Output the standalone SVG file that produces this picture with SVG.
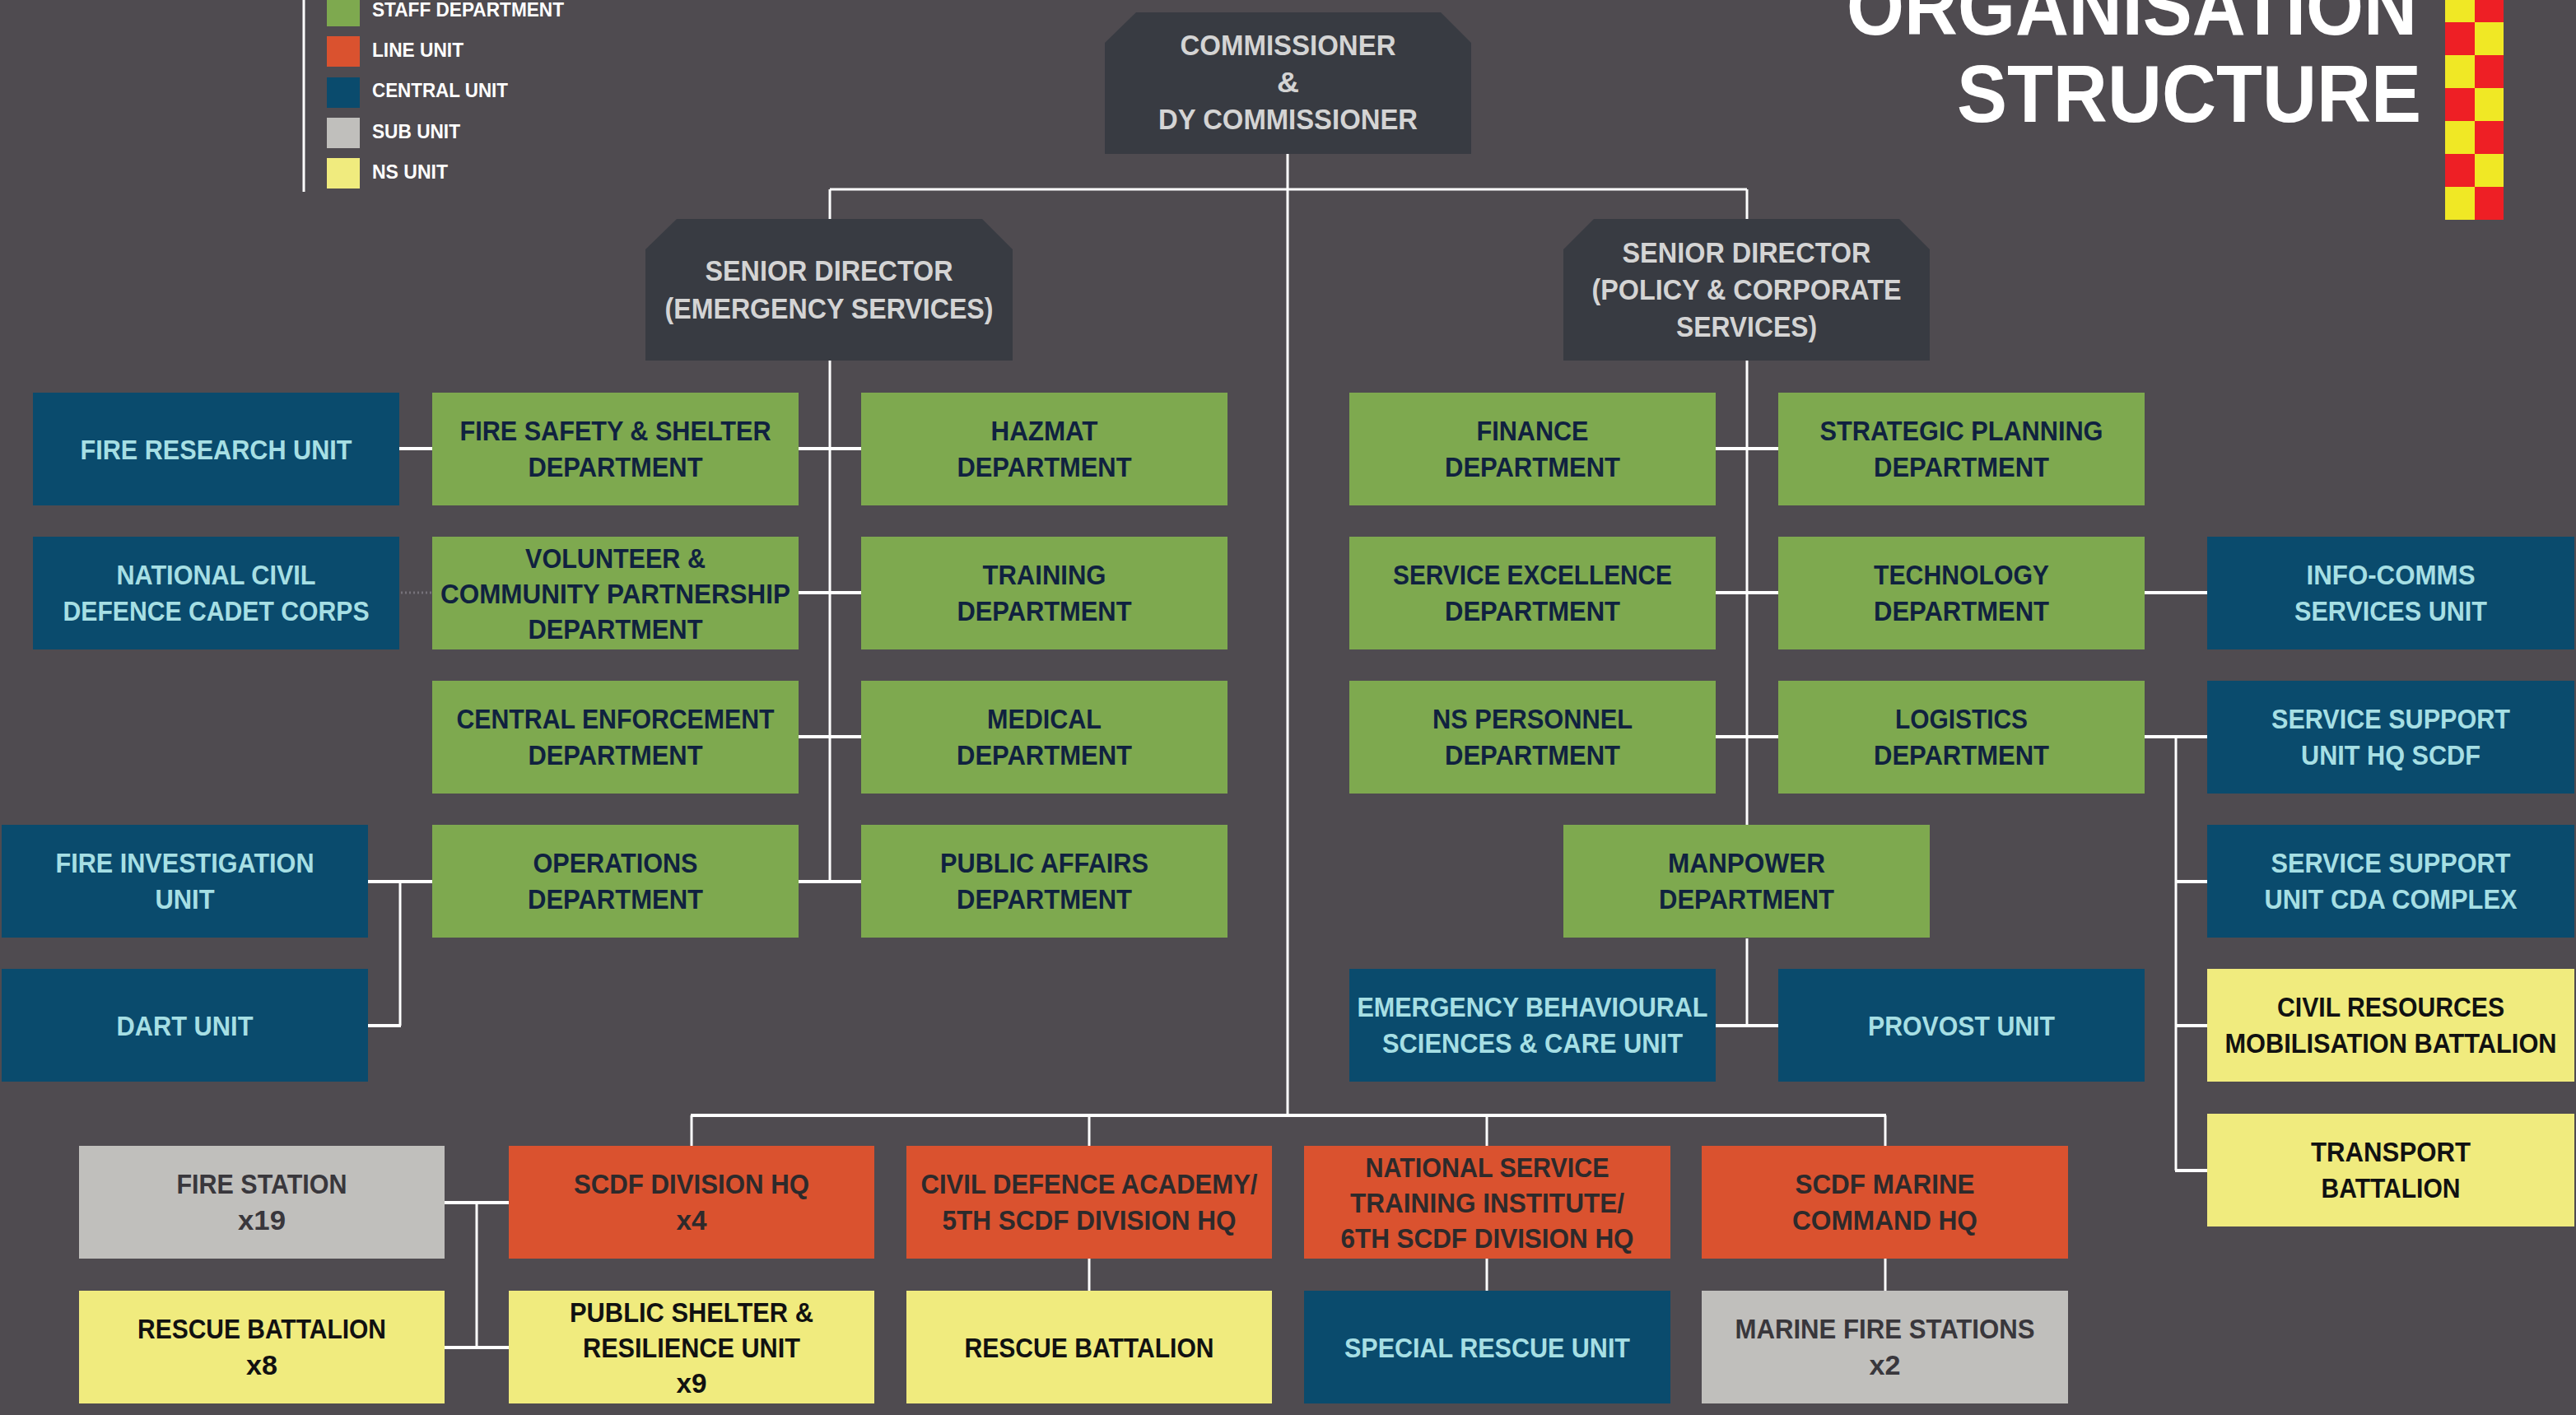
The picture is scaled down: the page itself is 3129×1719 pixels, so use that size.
<svg xmlns="http://www.w3.org/2000/svg" width="3129" height="1719" viewBox="0 0 3129 1719">
<style>
.t{font-family:"Liberation Sans",Arial,sans-serif;font-weight:bold;font-size:33px}
.g{fill:#7ea94f}.b{fill:#0a4b6d}.o{fill:#da522f}.s{fill:#c0bfbc}.y{fill:#f0eb7e}.d{fill:#383b42}
.tg{fill:#10223f}.tb{fill:#a6dfe4}.to{fill:#2d2a2b}.ts{fill:#39373c}.ty{fill:#111111}.td{fill:#d4d4d4;font-size:35px}
.lg{fill:#ffffff;font-size:24px}
.c{stroke:#ffffff;stroke-width:3;fill:none}
.h{stroke:#ffffff;stroke-width:4;fill:none}
.dot{stroke:#77737a;stroke-width:3;stroke-dasharray:2 3;fill:none}
</style>
<rect x="0" y="0" width="3129" height="1719" fill="#4f4b50"/>

<g id="legend">
<line x1="369" y1="0" x2="369" y2="233" class="c"/>
<rect x="397" y="-5" width="40" height="37" class="g"/>
<rect x="397" y="44" width="40" height="37" class="o"/>
<rect x="397" y="94" width="40" height="37" class="b"/>
<rect x="397" y="143" width="40" height="37" class="s"/>
<rect x="397" y="192" width="40" height="37" class="y"/>
<text class="t lg" x="452" y="20" textLength="233" lengthAdjust="spacingAndGlyphs">STAFF DEPARTMENT</text>
<text class="t lg" x="452" y="69" textLength="111" lengthAdjust="spacingAndGlyphs">LINE UNIT</text>
<text class="t lg" x="452" y="118" textLength="165" lengthAdjust="spacingAndGlyphs">CENTRAL UNIT</text>
<text class="t lg" x="452" y="168" textLength="107" lengthAdjust="spacingAndGlyphs">SUB UNIT</text>
<text class="t lg" x="452" y="217" textLength="92" lengthAdjust="spacingAndGlyphs">NS UNIT</text>
</g>

<g id="title">
<text class="t" style="font-size:99px" fill="#ffffff" x="2243" y="42" textLength="693" lengthAdjust="spacingAndGlyphs">ORGANISATION</text>
<text class="t" style="font-size:99px" fill="#ffffff" x="2377" y="148" textLength="564" lengthAdjust="spacingAndGlyphs">STRUCTURE</text>
<g id="flag">
<rect x="2970" y="-13" width="36" height="40" fill="#f0e825"/><rect x="3006" y="-13" width="35" height="40" fill="#ee1f25"/>
<rect x="2970" y="27" width="36" height="40" fill="#ee1f25"/><rect x="3006" y="27" width="35" height="40" fill="#f0e825"/>
<rect x="2970" y="67" width="36" height="40" fill="#f0e825"/><rect x="3006" y="67" width="35" height="40" fill="#ee1f25"/>
<rect x="2970" y="107" width="36" height="40" fill="#ee1f25"/><rect x="3006" y="107" width="35" height="40" fill="#f0e825"/>
<rect x="2970" y="147" width="36" height="40" fill="#f0e825"/><rect x="3006" y="147" width="35" height="40" fill="#ee1f25"/>
<rect x="2970" y="187" width="36" height="40" fill="#ee1f25"/><rect x="3006" y="187" width="35" height="40" fill="#f0e825"/>
<rect x="2970" y="227" width="36" height="40" fill="#f0e825"/><rect x="3006" y="227" width="35" height="40" fill="#ee1f25"/>
</g>
</g>

<g id="connectors">
<line x1="1564" y1="187" x2="1564" y2="1356" class="c"/>
<line x1="1008" y1="230" x2="2122" y2="230" class="c"/>
<line x1="1008" y1="230" x2="1008" y2="266" class="c"/>
<line x1="1008" y1="438" x2="1008" y2="1071" class="c"/>
<line x1="2122" y1="230" x2="2122" y2="266" class="c"/>
<line x1="2122" y1="438" x2="2122" y2="1002" class="c"/>
<line x1="2122" y1="1140" x2="2122" y2="1246" class="c"/>
<line x1="970" y1="545" x2="1046" y2="545" class="h"/>
<line x1="970" y1="720" x2="1046" y2="720" class="h"/>
<line x1="970" y1="895" x2="1046" y2="895" class="h"/>
<line x1="970" y1="1071" x2="1046" y2="1071" class="h"/>
<line x1="2084" y1="545" x2="2160" y2="545" class="h"/>
<line x1="2084" y1="720" x2="2160" y2="720" class="h"/>
<line x1="2084" y1="895" x2="2160" y2="895" class="h"/>
<line x1="2084" y1="1246" x2="2160" y2="1246" class="h"/>
<line x1="485" y1="545" x2="525" y2="545" class="h"/>
<line x1="487" y1="720" x2="524" y2="720" class="dot"/>
<line x1="447" y1="1071" x2="525" y2="1071" class="h"/>
<line x1="486" y1="1071" x2="486" y2="1246" class="c"/>
<line x1="447" y1="1246" x2="487" y2="1246" class="h"/>
<line x1="2605" y1="720" x2="2681" y2="720" class="h"/>
<line x1="2605" y1="895" x2="2681" y2="895" class="h"/>
<line x1="2643" y1="895" x2="2643" y2="1422" class="c"/>
<line x1="2642" y1="1071" x2="2681" y2="1071" class="h"/>
<line x1="2642" y1="1246" x2="2681" y2="1246" class="h"/>
<line x1="2642" y1="1422" x2="2681" y2="1422" class="h"/>
<line x1="839" y1="1355" x2="2291" y2="1355" class="h"/>
<line x1="840" y1="1355" x2="840" y2="1392" class="c"/>
<line x1="1323" y1="1355" x2="1323" y2="1392" class="c"/>
<line x1="1806" y1="1355" x2="1806" y2="1392" class="c"/>
<line x1="2290" y1="1355" x2="2290" y2="1392" class="c"/>
<line x1="1323" y1="1529" x2="1323" y2="1568" class="c"/>
<line x1="1806" y1="1529" x2="1806" y2="1568" class="c"/>
<line x1="2290" y1="1529" x2="2290" y2="1568" class="c"/>
<line x1="540" y1="1461" x2="618" y2="1461" class="h"/>
<line x1="579" y1="1461" x2="579" y2="1637" class="c"/>
<line x1="540" y1="1637" x2="618" y2="1637" class="h"/>
</g>

<g id="commissioner">
<path d="M1342,52 L1380,15 L1750,15 L1787,52 L1787,187 L1342,187 Z" class="d"/>
<text class="t td" x="1433.5" y="67" textLength="262" lengthAdjust="spacingAndGlyphs">COMMISSIONER</text>
<text class="t td" x="1551" y="112" textLength="27" lengthAdjust="spacingAndGlyphs">&amp;</text>
<text class="t td" x="1407" y="157" textLength="315" lengthAdjust="spacingAndGlyphs">DY COMMISSIONER</text>
</g>
<g id="sd-emergency">
<path d="M784,303 L822,266 L1193,266 L1230,303 L1230,438 L784,438 Z" class="d"/>
<text class="t td" x="856.5" y="341" textLength="301" lengthAdjust="spacingAndGlyphs">SENIOR DIRECTOR</text>
<text class="t td" x="807.5" y="387" textLength="399" lengthAdjust="spacingAndGlyphs">(EMERGENCY SERVICES)</text>
</g>
<g id="sd-policy">
<path d="M1899,303 L1936,266 L2307,266 L2344,303 L2344,438 L1899,438 Z" class="d"/>
<text class="t td" x="1970.5" y="319" textLength="302" lengthAdjust="spacingAndGlyphs">SENIOR DIRECTOR</text>
<text class="t td" x="1933.5" y="364" textLength="376" lengthAdjust="spacingAndGlyphs">(POLICY &amp; CORPORATE</text>
<text class="t td" x="2036" y="409" textLength="171" lengthAdjust="spacingAndGlyphs">SERVICES)</text>
</g>

<g id="fire-research-unit"><rect x="40" y="477" width="445" height="137" class="b"/>
<text class="t tb" x="97.5" y="557.5" textLength="330" lengthAdjust="spacingAndGlyphs">FIRE RESEARCH UNIT</text></g>
<g id="fire-safety"><rect x="525" y="477" width="445" height="137" class="g"/>
<text class="t tg" x="558.5" y="534.5" textLength="378" lengthAdjust="spacingAndGlyphs">FIRE SAFETY &amp; SHELTER</text>
<text class="t tg" x="641.5" y="578.5" textLength="212" lengthAdjust="spacingAndGlyphs">DEPARTMENT</text></g>
<g id="hazmat"><rect x="1046" y="477" width="445" height="137" class="g"/>
<text class="t tg" x="1203.5" y="534.5" textLength="130" lengthAdjust="spacingAndGlyphs">HAZMAT</text>
<text class="t tg" x="1162.5" y="578.5" textLength="212" lengthAdjust="spacingAndGlyphs">DEPARTMENT</text></g>

<g id="ncdcc"><rect x="40" y="652" width="445" height="137" class="b"/>
<text class="t tb" x="141.5" y="709.5" textLength="242" lengthAdjust="spacingAndGlyphs">NATIONAL CIVIL</text>
<text class="t tb" x="76.5" y="753.5" textLength="372" lengthAdjust="spacingAndGlyphs">DEFENCE CADET CORPS</text></g>
<g id="volunteer"><rect x="525" y="652" width="445" height="137" class="g"/>
<text class="t tg" x="638" y="689.5" textLength="219" lengthAdjust="spacingAndGlyphs">VOLUNTEER &amp;</text>
<text class="t tg" x="535" y="732.5" textLength="425" lengthAdjust="spacingAndGlyphs">COMMUNITY PARTNERSHIP</text>
<text class="t tg" x="641.5" y="775.5" textLength="212" lengthAdjust="spacingAndGlyphs">DEPARTMENT</text></g>
<g id="training"><rect x="1046" y="652" width="445" height="137" class="g"/>
<text class="t tg" x="1193.5" y="709.5" textLength="150" lengthAdjust="spacingAndGlyphs">TRAINING</text>
<text class="t tg" x="1162.5" y="753.5" textLength="212" lengthAdjust="spacingAndGlyphs">DEPARTMENT</text></g>

<g id="central-enforcement"><rect x="525" y="827" width="445" height="137" class="g"/>
<text class="t tg" x="554.5" y="884.5" textLength="386" lengthAdjust="spacingAndGlyphs">CENTRAL ENFORCEMENT</text>
<text class="t tg" x="641.5" y="928.5" textLength="212" lengthAdjust="spacingAndGlyphs">DEPARTMENT</text></g>
<g id="medical"><rect x="1046" y="827" width="445" height="137" class="g"/>
<text class="t tg" x="1199" y="884.5" textLength="139" lengthAdjust="spacingAndGlyphs">MEDICAL</text>
<text class="t tg" x="1162" y="928.5" textLength="213" lengthAdjust="spacingAndGlyphs">DEPARTMENT</text></g>

<g id="fire-investigation"><rect x="2" y="1002" width="445" height="137" class="b"/>
<text class="t tb" x="67.5" y="1059.5" textLength="314" lengthAdjust="spacingAndGlyphs">FIRE INVESTIGATION</text>
<text class="t tb" x="188.5" y="1103.5" textLength="72" lengthAdjust="spacingAndGlyphs">UNIT</text></g>
<g id="operations"><rect x="525" y="1002" width="445" height="137" class="g"/>
<text class="t tg" x="647.5" y="1059.5" textLength="200" lengthAdjust="spacingAndGlyphs">OPERATIONS</text>
<text class="t tg" x="641" y="1103.5" textLength="213" lengthAdjust="spacingAndGlyphs">DEPARTMENT</text></g>
<g id="public-affairs"><rect x="1046" y="1002" width="445" height="137" class="g"/>
<text class="t tg" x="1142" y="1059.5" textLength="253" lengthAdjust="spacingAndGlyphs">PUBLIC AFFAIRS</text>
<text class="t tg" x="1162" y="1103.5" textLength="213" lengthAdjust="spacingAndGlyphs">DEPARTMENT</text></g>
<g id="dart"><rect x="2" y="1177" width="445" height="137" class="b"/>
<text class="t tb" x="141.5" y="1257.5" textLength="166" lengthAdjust="spacingAndGlyphs">DART UNIT</text></g>

<g id="finance"><rect x="1639" y="477" width="445" height="137" class="g"/>
<text class="t tg" x="1793.5" y="534.5" textLength="136" lengthAdjust="spacingAndGlyphs">FINANCE</text>
<text class="t tg" x="1755" y="578.5" textLength="213" lengthAdjust="spacingAndGlyphs">DEPARTMENT</text></g>
<g id="strategic-planning"><rect x="2160" y="477" width="445" height="137" class="g"/>
<text class="t tg" x="2210.5" y="534.5" textLength="344" lengthAdjust="spacingAndGlyphs">STRATEGIC PLANNING</text>
<text class="t tg" x="2276" y="578.5" textLength="213" lengthAdjust="spacingAndGlyphs">DEPARTMENT</text></g>
<g id="service-excellence"><rect x="1639" y="652" width="445" height="137" class="g"/>
<text class="t tg" x="1692" y="709.5" textLength="339" lengthAdjust="spacingAndGlyphs">SERVICE EXCELLENCE</text>
<text class="t tg" x="1755" y="753.5" textLength="213" lengthAdjust="spacingAndGlyphs">DEPARTMENT</text></g>
<g id="technology"><rect x="2160" y="652" width="445" height="137" class="g"/>
<text class="t tg" x="2276" y="709.5" textLength="213" lengthAdjust="spacingAndGlyphs">TECHNOLOGY</text>
<text class="t tg" x="2276" y="753.5" textLength="213" lengthAdjust="spacingAndGlyphs">DEPARTMENT</text></g>
<g id="info-comms"><rect x="2681" y="652" width="446" height="137" class="b"/>
<text class="t tb" x="2801.5" y="709.5" textLength="205" lengthAdjust="spacingAndGlyphs">INFO-COMMS</text>
<text class="t tb" x="2787" y="753.5" textLength="234" lengthAdjust="spacingAndGlyphs">SERVICES UNIT</text></g>
<g id="ns-personnel"><rect x="1639" y="827" width="445" height="137" class="g"/>
<text class="t tg" x="1740" y="884.5" textLength="243" lengthAdjust="spacingAndGlyphs">NS PERSONNEL</text>
<text class="t tg" x="1755" y="928.5" textLength="213" lengthAdjust="spacingAndGlyphs">DEPARTMENT</text></g>
<g id="logistics"><rect x="2160" y="827" width="445" height="137" class="g"/>
<text class="t tg" x="2302" y="884.5" textLength="161" lengthAdjust="spacingAndGlyphs">LOGISTICS</text>
<text class="t tg" x="2276" y="928.5" textLength="213" lengthAdjust="spacingAndGlyphs">DEPARTMENT</text></g>
<g id="ssu-hq"><rect x="2681" y="827" width="446" height="137" class="b"/>
<text class="t tb" x="2759" y="884.5" textLength="290" lengthAdjust="spacingAndGlyphs">SERVICE SUPPORT</text>
<text class="t tb" x="2795" y="928.5" textLength="218" lengthAdjust="spacingAndGlyphs">UNIT HQ SCDF</text></g>
<g id="manpower"><rect x="1899" y="1002" width="445" height="137" class="g"/>
<text class="t tg" x="2026" y="1059.5" textLength="191" lengthAdjust="spacingAndGlyphs">MANPOWER</text>
<text class="t tg" x="2015" y="1103.5" textLength="213" lengthAdjust="spacingAndGlyphs">DEPARTMENT</text></g>
<g id="ssu-cda"><rect x="2681" y="1002" width="446" height="137" class="b"/>
<text class="t tb" x="2758.5" y="1059.5" textLength="291" lengthAdjust="spacingAndGlyphs">SERVICE SUPPORT</text>
<text class="t tb" x="2750.5" y="1103.5" textLength="307" lengthAdjust="spacingAndGlyphs">UNIT CDA COMPLEX</text></g>
<g id="ebsc"><rect x="1639" y="1177" width="445" height="137" class="b"/>
<text class="t tb" x="1648.5" y="1234.5" textLength="426" lengthAdjust="spacingAndGlyphs">EMERGENCY BEHAVIOURAL</text>
<text class="t tb" x="1679" y="1278.5" textLength="365" lengthAdjust="spacingAndGlyphs">SCIENCES &amp; CARE UNIT</text></g>
<g id="provost"><rect x="2160" y="1177" width="445" height="137" class="b"/>
<text class="t tb" x="2269" y="1257.5" textLength="227" lengthAdjust="spacingAndGlyphs">PROVOST UNIT</text></g>
<g id="civil-resources"><rect x="2681" y="1177" width="446" height="137" class="y"/>
<text class="t ty" x="2766" y="1234.5" textLength="276" lengthAdjust="spacingAndGlyphs">CIVIL RESOURCES</text>
<text class="t ty" x="2702.5" y="1278.5" textLength="403" lengthAdjust="spacingAndGlyphs">MOBILISATION BATTALION</text></g>
<g id="transport"><rect x="2681" y="1353" width="446" height="137" class="y"/>
<text class="t ty" x="2807" y="1410.5" textLength="194" lengthAdjust="spacingAndGlyphs">TRANSPORT</text>
<text class="t ty" x="2819.5" y="1454.5" textLength="169" lengthAdjust="spacingAndGlyphs">BATTALION</text></g>

<g id="fire-station"><rect x="96" y="1392" width="444" height="137" class="s"/>
<text class="t ts" x="214.5" y="1449.5" textLength="207" lengthAdjust="spacingAndGlyphs">FIRE STATION</text>
<text class="t ts" x="289" y="1493.5" textLength="58" lengthAdjust="spacingAndGlyphs">x19</text></g>
<g id="scdf-division-hq"><rect x="618" y="1392" width="444" height="137" class="o"/>
<text class="t to" x="697" y="1449.5" textLength="286" lengthAdjust="spacingAndGlyphs">SCDF DIVISION HQ</text>
<text class="t to" x="821.5" y="1493.5" textLength="37" lengthAdjust="spacingAndGlyphs">x4</text></g>
<g id="civil-defence-academy"><rect x="1101" y="1392" width="444" height="137" class="o"/>
<text class="t to" x="1118.5" y="1449.5" textLength="409" lengthAdjust="spacingAndGlyphs">CIVIL DEFENCE ACADEMY/</text>
<text class="t to" x="1144.5" y="1493.5" textLength="357" lengthAdjust="spacingAndGlyphs">5TH SCDF DIVISION HQ</text></g>
<g id="nsti"><rect x="1584" y="1392" width="445" height="137" class="o"/>
<text class="t to" x="1658.5" y="1429.5" textLength="296" lengthAdjust="spacingAndGlyphs">NATIONAL SERVICE</text>
<text class="t to" x="1640" y="1472.5" textLength="333" lengthAdjust="spacingAndGlyphs">TRAINING INSTITUTE/</text>
<text class="t to" x="1628.5" y="1515.5" textLength="356" lengthAdjust="spacingAndGlyphs">6TH SCDF DIVISION HQ</text></g>
<g id="marine-command"><rect x="2067" y="1392" width="445" height="137" class="o"/>
<text class="t to" x="2180.5" y="1449.5" textLength="218" lengthAdjust="spacingAndGlyphs">SCDF MARINE</text>
<text class="t to" x="2177" y="1493.5" textLength="225" lengthAdjust="spacingAndGlyphs">COMMAND HQ</text></g>

<g id="rescue-battalion-x8"><rect x="96" y="1568" width="444" height="137" class="y"/>
<text class="t ty" x="167" y="1625.5" textLength="302" lengthAdjust="spacingAndGlyphs">RESCUE BATTALION</text>
<text class="t ty" x="299" y="1669.5" textLength="38" lengthAdjust="spacingAndGlyphs">x8</text></g>
<g id="public-shelter"><rect x="618" y="1568" width="444" height="137" class="y"/>
<text class="t ty" x="692" y="1605.5" textLength="296" lengthAdjust="spacingAndGlyphs">PUBLIC SHELTER &amp;</text>
<text class="t ty" x="708" y="1648.5" textLength="264" lengthAdjust="spacingAndGlyphs">RESILIENCE UNIT</text>
<text class="t ty" x="821.5" y="1691.5" textLength="37" lengthAdjust="spacingAndGlyphs">x9</text></g>
<g id="rescue-battalion"><rect x="1101" y="1568" width="444" height="137" class="y"/>
<text class="t ty" x="1171.5" y="1648.5" textLength="303" lengthAdjust="spacingAndGlyphs">RESCUE BATTALION</text></g>
<g id="special-rescue-unit"><rect x="1584" y="1568" width="445" height="137" class="b"/>
<text class="t tb" x="1633" y="1648.5" textLength="347" lengthAdjust="spacingAndGlyphs">SPECIAL RESCUE UNIT</text></g>
<g id="marine-fire-stations"><rect x="2067" y="1568" width="445" height="137" class="s"/>
<text class="t ts" x="2107.5" y="1625.5" textLength="364" lengthAdjust="spacingAndGlyphs">MARINE FIRE STATIONS</text>
<text class="t ts" x="2270.5" y="1669.5" textLength="38" lengthAdjust="spacingAndGlyphs">x2</text></g>
</svg>
